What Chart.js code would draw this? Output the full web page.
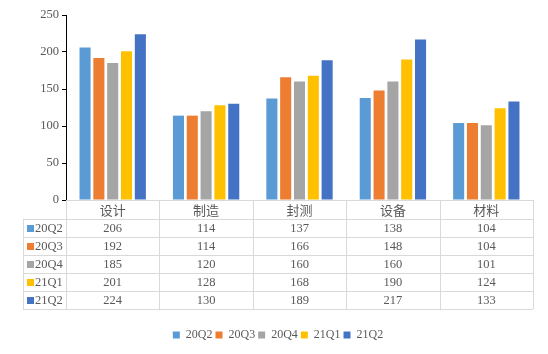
<!DOCTYPE html>
<html>
<head>
<meta charset="utf-8">
<script src="https://cdn.jsdelivr.net/npm/chart.js@4.4.0/dist/chart.umd.min.js"></script>
<style>
  html, body { margin: 0; padding: 0; background: #fff; }
  #wrap { width: 548px; height: 354px; }
</style>
</head>
<body>
<div id="wrap"><canvas id="chart" width="548" height="354"></canvas></div>
<script>
// categories and quarters
const categories = ['设计', '制造', '封测', '设备', '材料'];
const quarters = ['20Q2', '20Q3', '20Q4', '21Q1', '21Q2'];

const q20Q2 = [206, 114, 137, 138, 104];
const q20Q3 = [192, 114, 166, 148, 104];
const q20Q4 = [185, 120, 160, 160, 101];
const q21Q1 = [201, 128, 168, 190, 124];
const q21Q2 = [224, 130, 189, 217, 133];

const yTicks = [0, 50, 100, 150, 200, 250];

const colors = ['#5B9BD5', '#ED7D31', '#A5A5A5', '#FFC000', '#4472C4'];
const seriesValues = [q20Q2, q20Q3, q20Q4, q21Q1, q21Q2];

const textColor = '#595959';
const lineColor = '#d9d9d9';
const serif = '"Liberation Serif", "Times New Roman", serif';
const cjk = '"Noto Sans CJK SC", sans-serif';

// draws the data table under the plot, using the x scale for column edges
const dataTable = {
    id: 'dataTable',
    afterDraw: function (chart) {
        const ctx = chart.ctx;
        const area = chart.chartArea;
        const x = chart.scales.x;
        const rowH = 18;
        const headH = 19;
        const top = area.bottom;
        const left = area.left;
        const right = area.right;
        const rowLeft = 23;
        const colW = (right - left) / categories.length;
        const bottom = top + headH + rowH * quarters.length;

        ctx.save();
        ctx.strokeStyle = lineColor;
        ctx.lineWidth = 1;
        ctx.beginPath();
        // header top line
        ctx.moveTo(left, top + 0.5);
        ctx.lineTo(right, top + 0.5);
        // row lines
        for (let i = 0; i <= quarters.length; i++) {
            const yy = Math.round(top + headH + rowH * i) + 0.5;
            ctx.moveTo(rowLeft, yy);
            ctx.lineTo(right, yy);
        }
        // column lines
        ctx.moveTo(rowLeft + 0.5, top + headH);
        ctx.lineTo(rowLeft + 0.5, bottom);
        for (let c = 0; c <= categories.length; c++) {
            const xx = Math.round(left + colW * c) + 0.5;
            ctx.moveTo(xx, top);
            ctx.lineTo(xx, bottom);
        }
        ctx.stroke();

        ctx.fillStyle = textColor;
        ctx.textAlign = 'center';
        ctx.textBaseline = 'middle';
        ctx.font = '13px ' + cjk;
        categories.forEach((cat, i) => {
            ctx.fillText(cat, x.getPixelForValue(i), top + headH / 2 + 1);
        });

        ctx.font = '12.5px ' + serif;
        quarters.forEach((q, r) => {
            const cy = top + headH + rowH * r + rowH / 2 + 1;
            ctx.fillStyle = colors[r];
            ctx.fillRect(rowLeft + 4, cy - 4, 7, 7);
            ctx.fillStyle = textColor;
            ctx.textAlign = 'left';
            ctx.fillText(q, rowLeft + 12, cy);
            ctx.textAlign = 'center';
            seriesValues[r].forEach((v, i) => {
                ctx.fillText(String(v), x.getPixelForValue(i), cy);
            });
        });
        ctx.restore();
    }
};

const datasets = quarters.map((q, i) => ({
    label: q,
    data: seriesValues[i],
    backgroundColor: colors[i],
    borderWidth: 0,
    barPercentage: 0.8,
    categoryPercentage: 0.74
}));

const chartConfig = {
    type: 'bar',
    data: {
        labels: categories,
        datasets: datasets
    },
    options: {
        responsive: false,
        animation: false,
        layout: {
            padding: { top: 15, right: 15, bottom: 3, left: 23 }
        },
        scales: {
            x: {
                display: true,
                ticks: { display: false },
                grid: { display: false },
                border: { display: false },
                afterFit: function (s) { s.height = 126; }
            },
            y: {
                min: 0,
                max: 250,
                afterBuildTicks: function (s) {
                    s.ticks = yTicks.map(v => ({ value: v }));
                },
                afterFit: function (s) { s.width = 43; },
                ticks: {
                    color: textColor,
                    font: { family: serif, size: 12.5 },
                    padding: 3
                },
                grid: {
                    display: true,
                    drawOnChartArea: false,
                    drawTicks: true,
                    tickLength: 4,
                    color: '#000'
                },
                border: { display: true, color: '#000', width: 1 }
            }
        },
        plugins: {
            legend: {
                position: 'bottom',
                labels: {
                    boxWidth: 7,
                    boxHeight: 7,
                    padding: 3,
                    color: textColor,
                    font: { family: serif, size: 12 }
                }
            },
            tooltip: { enabled: false }
        }
    },
    plugins: [dataTable]
};

const myChart = new Chart(
    document.getElementById('chart'),
    chartConfig
);
</script>
</body>
</html>
